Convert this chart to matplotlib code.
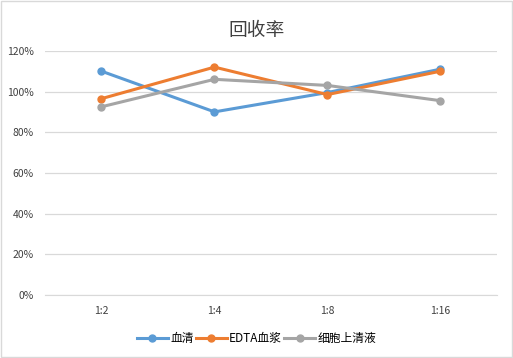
import matplotlib.pyplot as plt
from matplotlib.ticker import PercentFormatter

plt.rcParams['font.family'] = ['Noto Sans CJK SC', 'DejaVu Sans']

categories = ['1:2', '1:4', '1:8', '1:16']
serum = [1.10, 0.90, 0.995, 1.11]
edta_plasma = [0.965, 1.12, 0.985, 1.10]
supernatant = [0.925, 1.06, 1.03, 0.955]
series_names = ['血清', 'EDTA血浆', '细胞上清液']
colors = ['#5B9BD5', '#ED7D31', '#A5A5A5']

fig = plt.figure(figsize=(5.13, 3.58), dpi=100)
ax = fig.add_axes([0.0877, 0.176, 0.881, 0.682])

x = range(len(categories))
for vals, name, c in zip([serum, edta_plasma, supernatant], series_names, colors):
    ax.plot(x, vals, color=c, lw=2.2, marker='o', ms=5, label=name)

ax.set_xlim(-0.5, len(categories) - 0.5)
ax.set_ylim(0, 1.2)
ax.set_yticks([0, 0.2, 0.4, 0.6, 0.8, 1.0, 1.2])
ax.yaxis.set_major_formatter(PercentFormatter(1.0, decimals=0))
ax.set_xticks(list(x))
ax.set_xticklabels(categories)
ax.grid(axis='y', color='#D9D9D9', lw=0.9)
ax.set_axisbelow(True)
for s in ax.spines.values():
    s.set_visible(False)
ax.spines['bottom'].set_visible(True)
ax.spines['bottom'].set_color('#D9D9D9')
ax.tick_params(length=0, labelsize=7.5, colors='#404040', pad=8)

fig.text(0.5, 0.915, '回收率', ha='center', va='center', fontsize=13.5,
         color='#404040', fontweight='light')
fig.legend(loc='center', bbox_to_anchor=(0.5, 0.055), ncol=3, frameon=False,
           fontsize=8.5, handlelength=2.6, handletextpad=0.2, columnspacing=0.2)

border = plt.Rectangle((0.002, 0.002), 0.996, 0.996, transform=fig.transFigure,
                       fill=False, edgecolor='#D9D9D9', lw=1)
fig.patches.append(border)

fig.savefig('out.png', dpi=100)
